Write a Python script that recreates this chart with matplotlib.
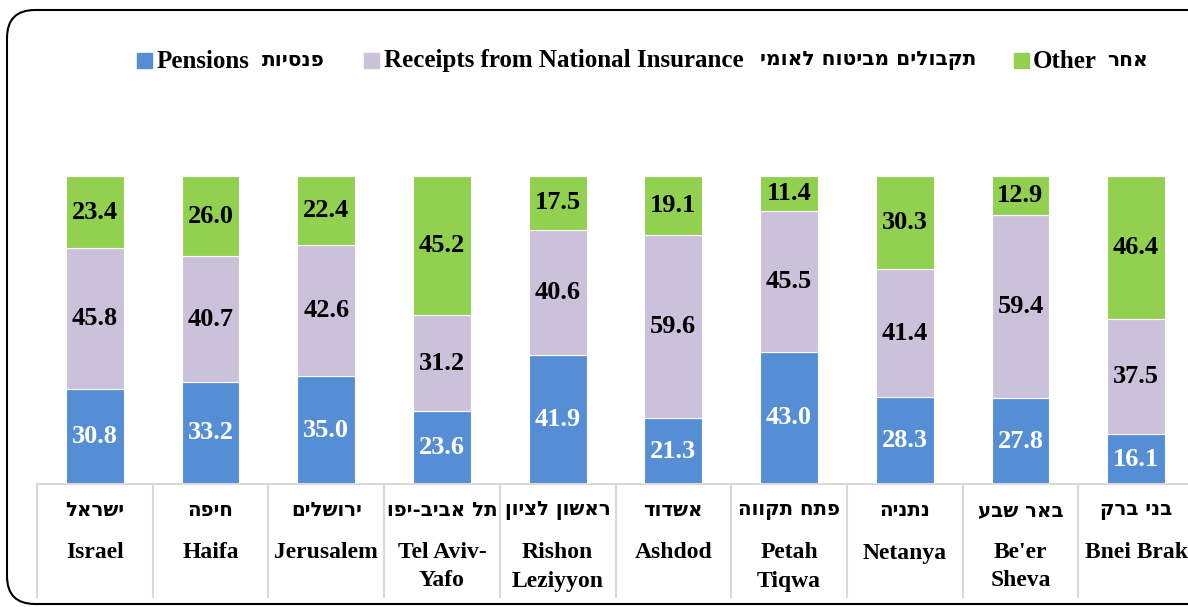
import matplotlib
matplotlib.use("Agg")
import matplotlib.pyplot as plt
import numpy as np
from matplotlib.patches import FancyBboxPatch, Rectangle
from matplotlib.transforms import IdentityTransform

# data (percent of income)
cities_he = ["ישראל", "חיפה", "ירושלים", "תל אביב-יפו", "ראשון לציון",
             "אשדוד", "פתח תקווה", "נתניה", "באר שבע", "בני ברק"]
cities_en = ["Israel", "Haifa", "Jerusalem", "Tel Aviv-\nYafo", "Rishon\nLeziyyon",
             "Ashdod", "Petah\nTiqwa", "Netanya", "Be'er\nSheva", "Bnei Brak"]
pensions = [30.8, 33.2, 35.0, 23.6, 41.9, 21.3, 43.0, 28.3, 27.8, 16.1]
nat_ins = [45.8, 40.7, 42.6, 31.2, 40.6, 59.6, 45.5, 41.4, 59.4, 37.5]
other = [23.4, 26.0, 22.4, 45.2, 17.5, 19.1, 11.4, 30.3, 12.9, 46.4]

series_en = ["Pensions", "Receipts from National Insurance", "Other"]
series_he = ["פנסיות", "תקבולים מביטוח לאומי", "אחר"]
colors = ["#558ED5", "#CCC1DA", "#92D050"]

def heb(s):  # matplotlib has no bidi, flip hebrew for display
    return s[::-1]

SERIF = ["Liberation Serif", "DejaVu Serif"]
HEB = ["DejaVu Sans"]

W, H = 1188, 607
fig = plt.figure(figsize=(W/100, H/100), dpi=100)
ax = fig.add_axes([37/W, (H-484)/H, 1157/W, 308/H])

x = np.arange(len(cities_en))
bottom = np.zeros(len(x))
for vals, col, i in zip([pensions, nat_ins, other], colors, range(3)):
    bars = ax.bar(x, vals, width=0.5, bottom=bottom, color=col, edgecolor="white", linewidth=0.8)
    ax.bar_label(bars, fmt="%.1f", label_type="center", color="white" if i == 0 else "black",
                 fontsize=19, fontweight="bold", family=SERIF)
    bottom += np.array(vals)

ax.set_xlim(-0.5, len(x)-0.5)
ax.set_ylim(0, 100)
ax.set_xticks([])
ax.set_yticks([])
for s in ["top", "left", "right"]:
    ax.spines[s].set_visible(False)
ax.spines["bottom"].set_color("#d9d9d9")
ax.spines["bottom"].set_linewidth(1.5)

# category table below the bars
px = 100/308.0
for b in np.arange(len(x)+1) - 0.5:
    ax.plot([b, b], [0, -(597-484)*px], color="#d9d9d9", lw=1.5, clip_on=False)
for i in x:
    ax.text(i, -(511-484)*px, heb(cities_he[i]), ha="center", va="center",
            fontsize=14.2, fontweight="bold", family=HEB, clip_on=False)
    for j, line in enumerate(cities_en[i].split("\n")):
        ax.text(i, -(553-484+28*j)*px, line, ha="center", va="center",
                fontsize=17, fontweight="bold", family=SERIF, clip_on=False)

# legend built by hand (mixed english / hebrew)
tr = IdentityTransform()
leg = [(137, 157, 262), (364, 384, 760), (1014, 1033, 1107)]
ly = H - 61
for (sq, te, th), col, en, he in zip(leg, colors, series_en, series_he):
    fig.add_artist(Rectangle((sq, ly-7), 15, 15, color=col, transform=tr))
    fig.text(te/W, ly/H, en, ha="left", va="center", fontsize=18, fontweight="bold", family=SERIF)
    fig.text(th/W, ly/H, heb(he), ha="left", va="center", fontsize=14.5, fontweight="bold", family=HEB)

# rounded frame around the chart
fig.add_artist(FancyBboxPatch((7, 3), 1215, H-13, boxstyle="round,pad=0,rounding_size=28",
                              fill=False, edgecolor="black", lw=1.5, transform=tr))

fig.savefig("out.png", dpi=100)
